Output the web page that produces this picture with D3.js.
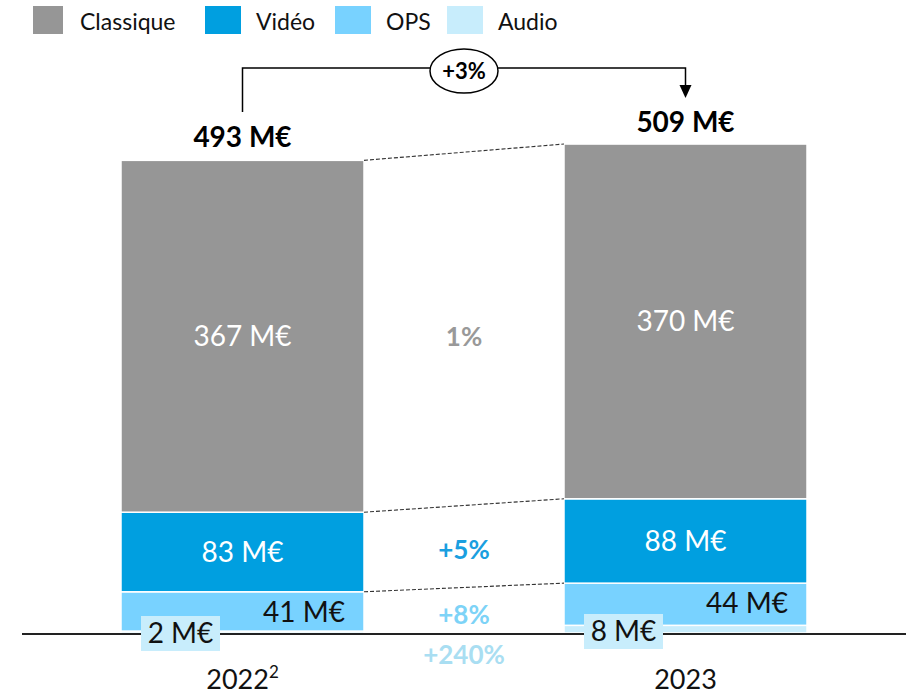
<!DOCTYPE html>
<html>
<head>
<meta charset="utf-8">
<script src="https://cdn.jsdelivr.net/npm/d3@7"></script>
<style>
  body { margin: 0; background: #fff; }
  svg { display: block; font-family: Lato, "Open Sans", sans-serif; }
</style>
</head>
<body>
<svg></svg>
<script>
const years = ["2022", "2023"];
const series = ["Classique", "Vidéo", "OPS", "Audio"];
const classique = [367, 370];
const video = [83, 88];
const ops = [41, 44];
const audio = [2, 8];
const totals = [493, 509];
const growth = ["1%", "+5%", "+8%", "+240%"];
const totalGrowth = "+3%";

const width = 906;
const height = 695;
const baseY = 633;

const colors = ["#969696", "#009fe0", "#78d2ff", "#c8edfc"];
const growthColors = ["#999999", "#1a9fe0", "#7dd3f7", "#a9def2"];

let svg = d3.select("svg")
  .attr("width", width)
  .attr("height", height);

// lignes du tableau -> objets pour d3.stack
let rows = years.map((y, i) => ({
  year: y,
  "Audio": audio[i],
  "OPS": ops[i],
  "Vidéo": video[i],
  "Classique": classique[i]
}));

let stack = d3.stack().keys(["Audio", "OPS", "Vidéo", "Classique"]);
let layers = stack(rows);

let scX = d3.scaleBand()
  .domain(years)
  .range([121, 807])
  .paddingInner(200 / 443)
  .paddingOuter(0);

let scY = d3.scaleLinear()
  .domain([0, 509])
  .range([baseY, 145]);

const colorOf = d3.scaleOrdinal().domain(series).range(colors);

// barres
svg.selectAll("g.layer")
  .data(layers)
  .enter()
  .append("g")
  .attr("class", "layer")
  .attr("fill", d => colorOf(d.key))
  .selectAll("rect")
  .data(d => d)
  .enter()
  .append("rect")
  .attr("x", d => scX(d.data.year))
  .attr("width", scX.bandwidth())
  .attr("y", d => scY(d[1]))
  .attr("height", d => scY(d[0]) - scY(d[1]))
  .attr("stroke", "#fff")
  .attr("stroke-width", 1.5);

// lignes pointillées entre les barres
const x1 = scX(years[0]) + scX.bandwidth();
const x2 = scX(years[1]);
["OPS", "Vidéo", "Classique"].forEach(k => {
  let l = layers.find(d => d.key == k);
  svg.append("line")
    .attr("x1", x1).attr("y1", scY(l[0][1]))
    .attr("x2", x2).attr("y2", scY(l[1][1]))
    .attr("stroke", "#333")
    .attr("stroke-width", 1.1)
    .attr("stroke-dasharray", "4,2");
});

// axe de base
svg.append("line")
  .attr("x1", 22).attr("x2", width)
  .attr("y1", baseY + 1).attr("y2", baseY + 1)
  .attr("stroke", "#222")
  .attr("stroke-width", 2);

const cx = d => scX(d) + scX.bandwidth() / 2;

// étiquettes des segments
const lab = layers.find(d => d.key == "Classique");
lab.forEach((d, i) => {
  svg.append("text")
    .attr("x", cx(years[i]))
    .attr("y", (scY(d[0]) + scY(d[1])) / 2 + 10)
    .attr("text-anchor", "middle")
    .attr("fill", "#fff")
    .style("font-size", "28px")
    .text(classique[i] + " M€");
});
const lvid = layers.find(d => d.key == "Vidéo");
lvid.forEach((d, i) => {
  svg.append("text")
    .attr("x", cx(years[i]))
    .attr("y", (scY(d[0]) + scY(d[1])) / 2 + 10)
    .attr("text-anchor", "middle")
    .attr("fill", "#fff")
    .style("font-size", "28px")
    .text(video[i] + " M€");
});
const lops = layers.find(d => d.key == "OPS");
lops.forEach((d, i) => {
  svg.append("text")
    .attr("x", scX(years[i]) + scX.bandwidth() - 19)
    .attr("y", scY(d[1]) + 30)
    .attr("text-anchor", "end")
    .attr("fill", "#111")
    .style("font-size", "28px")
    .text(ops[i] + " M€");
});
// audio : petite boîte
const boxY = [616, 614];
audio.forEach((v, i) => {
  let bx = scX(years[i]) + 20;
  svg.append("rect")
    .attr("x", bx).attr("y", boxY[i])
    .attr("width", 79).attr("height", 35)
    .attr("fill", colors[3]);
  svg.append("text")
    .attr("x", bx + 39.5)
    .attr("y", boxY[i] + 27)
    .attr("text-anchor", "middle")
    .attr("fill", "#111")
    .style("font-size", "28px")
    .text(v + " M€");
});

// croissance par segment
const midX = (x1 + x2) / 2;
const growthY = [346, 559, 624, 664];
growth.forEach((g, i) => {
  svg.append("text")
    .attr("x", midX)
    .attr("y", growthY[i])
    .attr("text-anchor", "middle")
    .attr("fill", growthColors[i])
    .style("font-size", "26px")
    .style("font-weight", "bold")
    .text(g);
});

// totaux
totals.forEach((t, i) => {
  svg.append("text")
    .attr("x", cx(years[i]))
    .attr("y", scY(t) - 13)
    .attr("text-anchor", "middle")
    .attr("fill", "#000")
    .style("font-size", "28px")
    .style("font-weight", "bold")
    .text(t + " M€");
});

// crochet +3%
const bx1 = cx(years[0]), bx2 = cx(years[1]);
svg.append("path")
  .attr("d", `M${bx1},112 V68 H${bx2} V88`)
  .attr("fill", "none")
  .attr("stroke", "#000")
  .attr("stroke-width", 1.5);
svg.append("path")
  .attr("d", `M${bx2 - 6},85 L${bx2 + 6},85 L${bx2},98 Z`)
  .attr("fill", "#000");
svg.append("ellipse")
  .attr("cx", midX).attr("cy", 71)
  .attr("rx", 34).attr("ry", 22)
  .attr("fill", "#fff")
  .attr("stroke", "#000")
  .attr("stroke-width", 1.5);
svg.append("text")
  .attr("x", midX).attr("y", 79)
  .attr("text-anchor", "middle")
  .style("font-size", "22px")
  .style("font-weight", "bold")
  .text(totalGrowth);

// années
years.forEach((y, i) => {
  let t = svg.append("text")
    .attr("x", cx(y))
    .attr("y", 689)
    .attr("text-anchor", "middle")
    .attr("fill", "#111")
    .style("font-size", "27px")
    .text(y);
  if (i == 0) {
    t.append("tspan")
      .attr("dy", -11)
      .style("font-size", "17px")
      .text("2");
  }
});

// légende
const legX = [33, 205, 335, 447];
let legend = svg.selectAll(".legend")
  .data(series)
  .enter()
  .append("g")
  .attr("class", "legend")
  .attr("transform", (d, i) => `translate(${legX[i]}, 6)`);
legend.append("rect")
  .attr("width", (d, i) => i == 0 ? 30 : 36)
  .attr("height", 28)
  .attr("fill", d => colorOf(d));
legend.append("text")
  .attr("x", (d, i) => i == 0 ? 47 : 51)
  .attr("y", 24)
  .attr("fill", "#111")
  .style("font-size", "23px")
  .text(d => d);
</script>
</body>
</html>
